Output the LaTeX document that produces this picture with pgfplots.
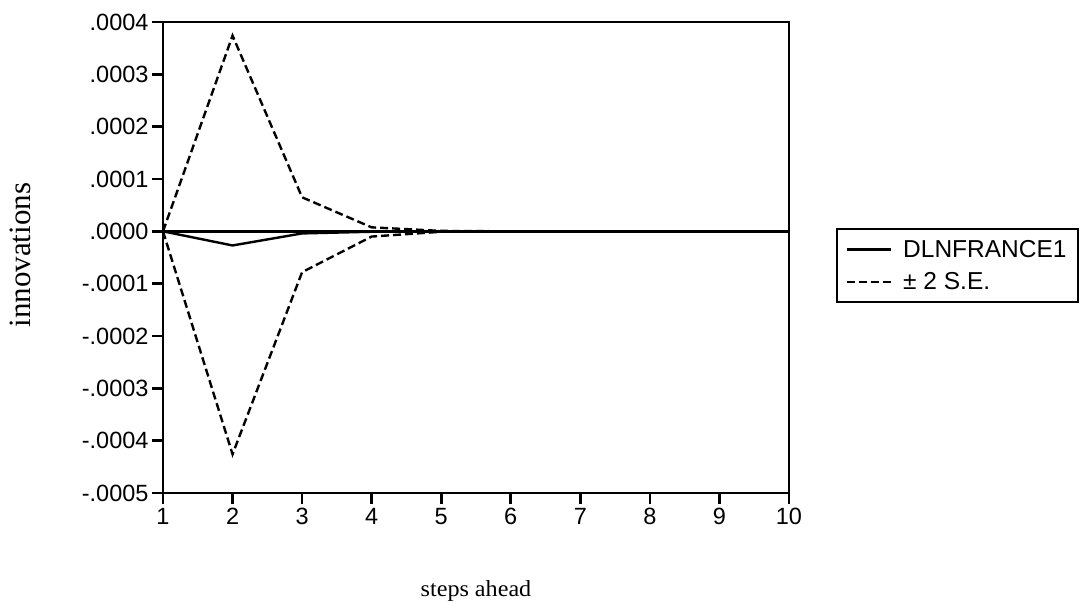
\documentclass[border=0pt]{standalone}
\usepackage{fontspec}
\setmainfont{Liberation Serif}
\setsansfont{Liberation Sans}
\usepackage{pgfplots}
\pgfplotsset{compat=1.18}
\begin{document}
\begin{tikzpicture}
\useasboundingbox (0pt,0pt) rectangle (1086pt,602pt);
\begin{axis}[
  at={(163pt,109pt)}, anchor=south west,
  scale only axis, width=626pt, height=471pt,
  xmin=1, xmax=10, ymin=-0.0005, ymax=0.0004,
  xtick={1,2,3,4,5,6,7,8,9,10},
  xticklabels={1,2,3,4,5,6,7,8,9,10},
  ytick={-0.0005,-0.0004,-0.0003,-0.0002,-0.0001,0,0.0001,0.0002,0.0003,0.0004},
  yticklabels={-.0005,-.0004,-.0003,-.0002,-.0001,.0000,.0001,.0002,.0003,.0004},
  scaled y ticks=false,
  tick align=outside, tick pos=left,
  major tick length=11pt,
  axis line style={line width=2.6pt},
  every tick/.style={black, line width=2.6pt},
  ticklabel style={font=\sffamily\fontsize{23.5}{23.5}\selectfont},
  xticklabel style={yshift=-1pt},
  yticklabel style={xshift=0pt},
  xlabel={steps ahead},
  ylabel={innovations},
  xlabel style={at={(axis description cs:0.5,-0.2080)}, anchor=center, font=\fontsize{23}{23}\selectfont, xscale=1.05},
  ylabel style={at={(axis description cs:-0.2284,0.505)}, anchor=center, font=\fontsize{31}{31}\selectfont},
  legend style={at={(axis description cs:1.0751,0.5626)}, anchor=north west,
    draw=black, line width=2pt, font=\sffamily\fontsize{24.5}{24.5}\selectfont,
    inner xsep=9pt, inner ysep=9pt, row sep=10pt, cells={anchor=west}},
  legend image code/.code={\draw[#1, line width=2.4pt] (0pt,0pt) -- (44pt,0pt);
    \path[draw=none] (0pt,0pt) -- (54pt,0pt);},
]
\addplot[black, line width=2.4pt, forget plot] coordinates {(1,0) (10,0)};
\addplot[black, line width=2.4pt] coordinates {
  (1,0) (2,-0.000027) (3,-0.000004) (4,-0.0000008) (5,0) (6,0) (7,0) (8,0) (9,0) (10,0)};
\addlegendentry{DLNFRANCE1}
\addplot[black, line width=2.4pt, dash pattern=on 8pt off 4pt] coordinates {
  (1,0) (2,0.000374) (3,0.000065) (4,0.0000076) (5,0.0000008) (6,0) (7,0) (8,0) (9,0) (10,0)};
\addlegendentry{± 2 S.E.}
\addplot[black, line width=2.4pt, dash pattern=on 8pt off 4pt, forget plot] coordinates {
  (1,0) (2,-0.000426) (3,-0.000078) (4,-0.000010) (5,-0.0000008) (6,0) (7,0) (8,0) (9,0) (10,0)};
\end{axis}
\end{tikzpicture}
\end{document}
